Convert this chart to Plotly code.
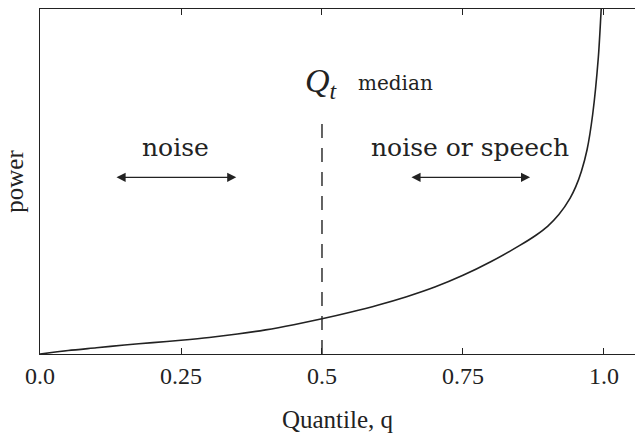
import plotly.graph_objects as go

# Quantile curve of the power values (normalised power, 0..1 of the axis span)
quantile = [0.0, 0.05, 0.1, 0.15, 0.2, 0.25, 0.3, 0.35, 0.4, 0.45, 0.5, 0.55,
            0.6, 0.65, 0.7, 0.75, 0.8, 0.85, 0.88, 0.9, 0.92, 0.94, 0.95,
            0.96, 0.97, 0.98, 0.99, 0.995, 0.997]
power = [0.0, 0.010, 0.018, 0.026, 0.033, 0.040, 0.048, 0.058, 0.070, 0.085,
         0.102, 0.121, 0.142, 0.166, 0.194, 0.228, 0.268, 0.314, 0.345,
         0.370, 0.404, 0.452, 0.485, 0.530, 0.592, 0.695, 0.860, 0.997, 1.05]

tick_vals = [0.0, 0.25, 0.5, 0.75, 1.0]
tick_text = ["0.0", "0.25", "0.5", "0.75", "1.0"]

median_q = 0.5
dash_top = 0.687

noise_range = [0.133, 0.348]
mixed_range = [0.656, 0.869]
arrow_level = 0.512

serif = "Liberation Serif"
book = "DejaVu Serif"
ink = "#222222"

fig = go.Figure()

fig.add_trace(go.Scatter(
    x=quantile, y=power, mode="lines",
    line=dict(color=ink, width=1.6, shape="spline", smoothing=0.8),
    hoverinfo="skip", showlegend=False,
))

# dashed marker at the median
fig.add_trace(go.Scatter(
    x=[median_q, median_q], y=[0, dash_top], mode="lines",
    line=dict(color=ink, width=1.4, dash="14px,10px"),
    hoverinfo="skip", showlegend=False,
))

annotations = [
    dict(x=(noise_range[0] + noise_range[1]) / 2, y=0.6, text="noise",
         font=dict(family=book, size=25, color=ink)),
    dict(x=(mixed_range[0] + mixed_range[1]) / 2, y=0.6, text="noise or speech",
         font=dict(family=book, size=25, color=ink)),
    dict(x=median_q, y=0.785, text="<i>Q</i><sub><i>t</i></sub>",
         font=dict(family=serif, size=34, color=ink)),
    dict(x=0.63, y=0.785, text="median",
         font=dict(family=book, size=20, color=ink)),
]
for a in annotations:
    a.update(xref="x", yref="y", showarrow=False)

# double-headed range arrows
for lo, hi in (noise_range, mixed_range):
    annotations.append(dict(
        x=hi, y=arrow_level, ax=lo, ay=arrow_level,
        xref="x", yref="y", axref="x", ayref="y",
        text="", showarrow=True, arrowhead=2, arrowside="end+start",
        arrowsize=1.3, arrowwidth=1.4, arrowcolor=ink,
    ))

fig.update_layout(
    width=635, height=436,
    margin=dict(l=40, r=0, t=9, b=82),
    paper_bgcolor="white", plot_bgcolor="white",
    annotations=annotations,
    xaxis=dict(
        range=[0, 1.055], tickvals=tick_vals, ticktext=tick_text,
        ticks="inside", ticklen=6, tickcolor=ink, tickwidth=1,
        showline=True, linecolor=ink, linewidth=1.4, mirror="ticks",
        showgrid=False, zeroline=False,
        tickfont=dict(family=serif, size=24, color=ink),
        title=dict(text="Quantile, q", font=dict(family=serif, size=25, color=ink),
                   standoff=22),
    ),
    yaxis=dict(
        range=[0, 1], showticklabels=False, ticks="",
        showline=True, linecolor=ink, linewidth=1.4,
        showgrid=False, zeroline=False,
        title=dict(text="power", font=dict(family=serif, size=25, color=ink),
                   standoff=8),
    ),
)

fig.write_html("out.html")
